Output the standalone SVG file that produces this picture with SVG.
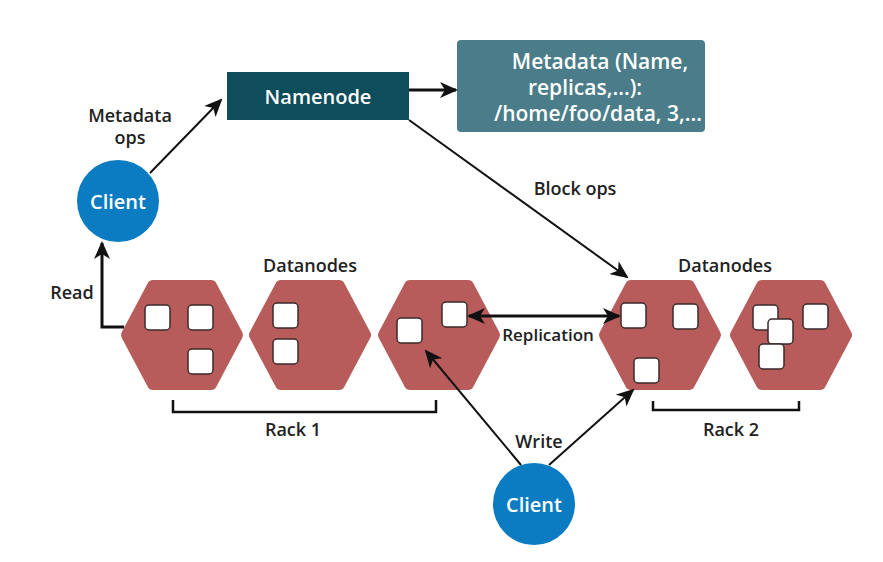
<svg xmlns="http://www.w3.org/2000/svg" width="883" height="562" viewBox="0 0 883 562">
<style>
text{font-family:"Open Sans","Liberation Sans",sans-serif;font-weight:600;fill:#222;text-anchor:middle;dominant-baseline:central}
.lbl{font-size:18px}
.w{fill:#fff}
.hex{fill:#b85b5b;stroke:#b85b5b;stroke-width:12;stroke-linejoin:round}
.blk{fill:#fff;stroke:#3a2a2a;stroke-width:1.5}
.cl{fill:#0b7bc2}
.ln{fill:none;stroke:#111;stroke-width:2}
.thk{fill:none;stroke:#111;stroke-width:3}
</style>
<defs>
<marker id="ah" viewBox="0 0 18 16" refX="16" refY="8" markerWidth="18" markerHeight="16" markerUnits="userSpaceOnUse" orient="auto-start-reverse">
<path d="M0,0 L18,8 L0,16 L5,8 z" fill="#111"/>
</marker>
<polygon id="hexshape" points="-55,0 -29,-49 29,-49 55,0 29,49 -29,49"/>
</defs>
<rect width="883" height="562" fill="#fff"/>

<g id="namenode">
<rect x="227" y="72" width="182" height="48" fill="#0e4d5b"/>
<text class="w" x="318" y="96" style="font-size:20px">Namenode</text>
</g>

<g id="metadata">
<rect x="457" y="40" width="248" height="92" rx="4" fill="#4a7d89"/>
<text class="w" x="600" y="61" style="font-size:21px">Metadata (Name,</text>
<text class="w" x="585" y="87" style="font-size:21px">replicas,...):</text>
<text class="w" x="598" y="113" style="font-size:21px">/home/foo/data, 3,...</text>
</g>

<g id="client-top">
<circle class="cl" cx="118" cy="201" r="41"/>
<text class="w" x="118" y="201" style="font-size:20px">Client</text>
</g>

<g id="client-bottom">
<circle class="cl" cx="534" cy="504" r="41"/>
<text class="w" x="534" y="504" style="font-size:20px">Client</text>
</g>

<g id="rack1">
<text class="lbl" x="310" y="265">Datanodes</text>
<g id="dn1">
<use href="#hexshape" class="hex" x="182" y="335"/>
<rect class="blk" x="145" y="305" width="25" height="25" rx="4"/>
<rect class="blk" x="188" y="305" width="25" height="25" rx="4"/>
<rect class="blk" x="188" y="349" width="25" height="25" rx="4"/>
</g>
<g id="dn2">
<use href="#hexshape" class="hex" x="310" y="335"/>
<rect class="blk" x="273" y="303" width="25" height="25" rx="4"/>
<rect class="blk" x="273" y="339" width="25" height="25" rx="4"/>
</g>
<g id="dn3">
<use href="#hexshape" class="hex" x="439" y="335"/>
<rect class="blk" x="397" y="318" width="25" height="25" rx="4"/>
<rect class="blk" x="442" y="302" width="25" height="25" rx="4"/>
</g>
<path class="thk" d="M173,400 V412 H436 V400" style="stroke-width:2.5"/>
<text class="lbl" x="293" y="429">Rack 1</text>
</g>

<g id="rack2">
<text class="lbl" x="725" y="265">Datanodes</text>
<g id="dn4">
<use href="#hexshape" class="hex" x="660" y="335"/>
<rect class="blk" x="621" y="303" width="25" height="25" rx="4"/>
<rect class="blk" x="673" y="304" width="25" height="25" rx="4"/>
<rect class="blk" x="634" y="358" width="25" height="25" rx="4"/>
</g>
<g id="dn5">
<use href="#hexshape" class="hex" x="791" y="335"/>
<rect class="blk" x="753" y="305" width="25" height="25" rx="4"/>
<rect class="blk" x="803" y="304" width="25" height="25" rx="4"/>
<rect class="blk" x="768" y="319" width="25" height="25" rx="4"/>
<rect class="blk" x="759" y="344" width="25" height="25" rx="4"/>
</g>
<path class="thk" d="M653,401 V410 H799 V401" style="stroke-width:2.5"/>
<text class="lbl" x="731" y="429">Rack 2</text>
</g>

<g id="connectors">
<line class="ln" x1="150" y1="173" x2="221" y2="100" marker-end="url(#ah)"/>
<line class="thk" x1="409" y1="90" x2="456" y2="90" marker-end="url(#ah)"/>
<line class="ln" x1="409" y1="120" x2="627" y2="277" marker-end="url(#ah)"/>
<polyline class="thk" points="124,327 102,327 102,243" marker-end="url(#ah)"/>
<line class="thk" x1="469" y1="316" x2="619" y2="316" marker-start="url(#ah)" marker-end="url(#ah)"/>
<line class="ln" x1="521" y1="465" x2="426" y2="351" marker-end="url(#ah)"/>
<line class="ln" x1="549" y1="465" x2="633" y2="390" marker-end="url(#ah)"/>
<text class="lbl" x="130" y="115">Metadata</text>
<text class="lbl" x="130" y="137">ops</text>
<text class="lbl" x="575" y="188">Block ops</text>
<text class="lbl" x="72" y="292">Read</text>
<text class="lbl" x="548" y="334" style="font-size:17px">Replication</text>
<text class="lbl" x="539" y="441">Write</text>
</g>
</svg>
